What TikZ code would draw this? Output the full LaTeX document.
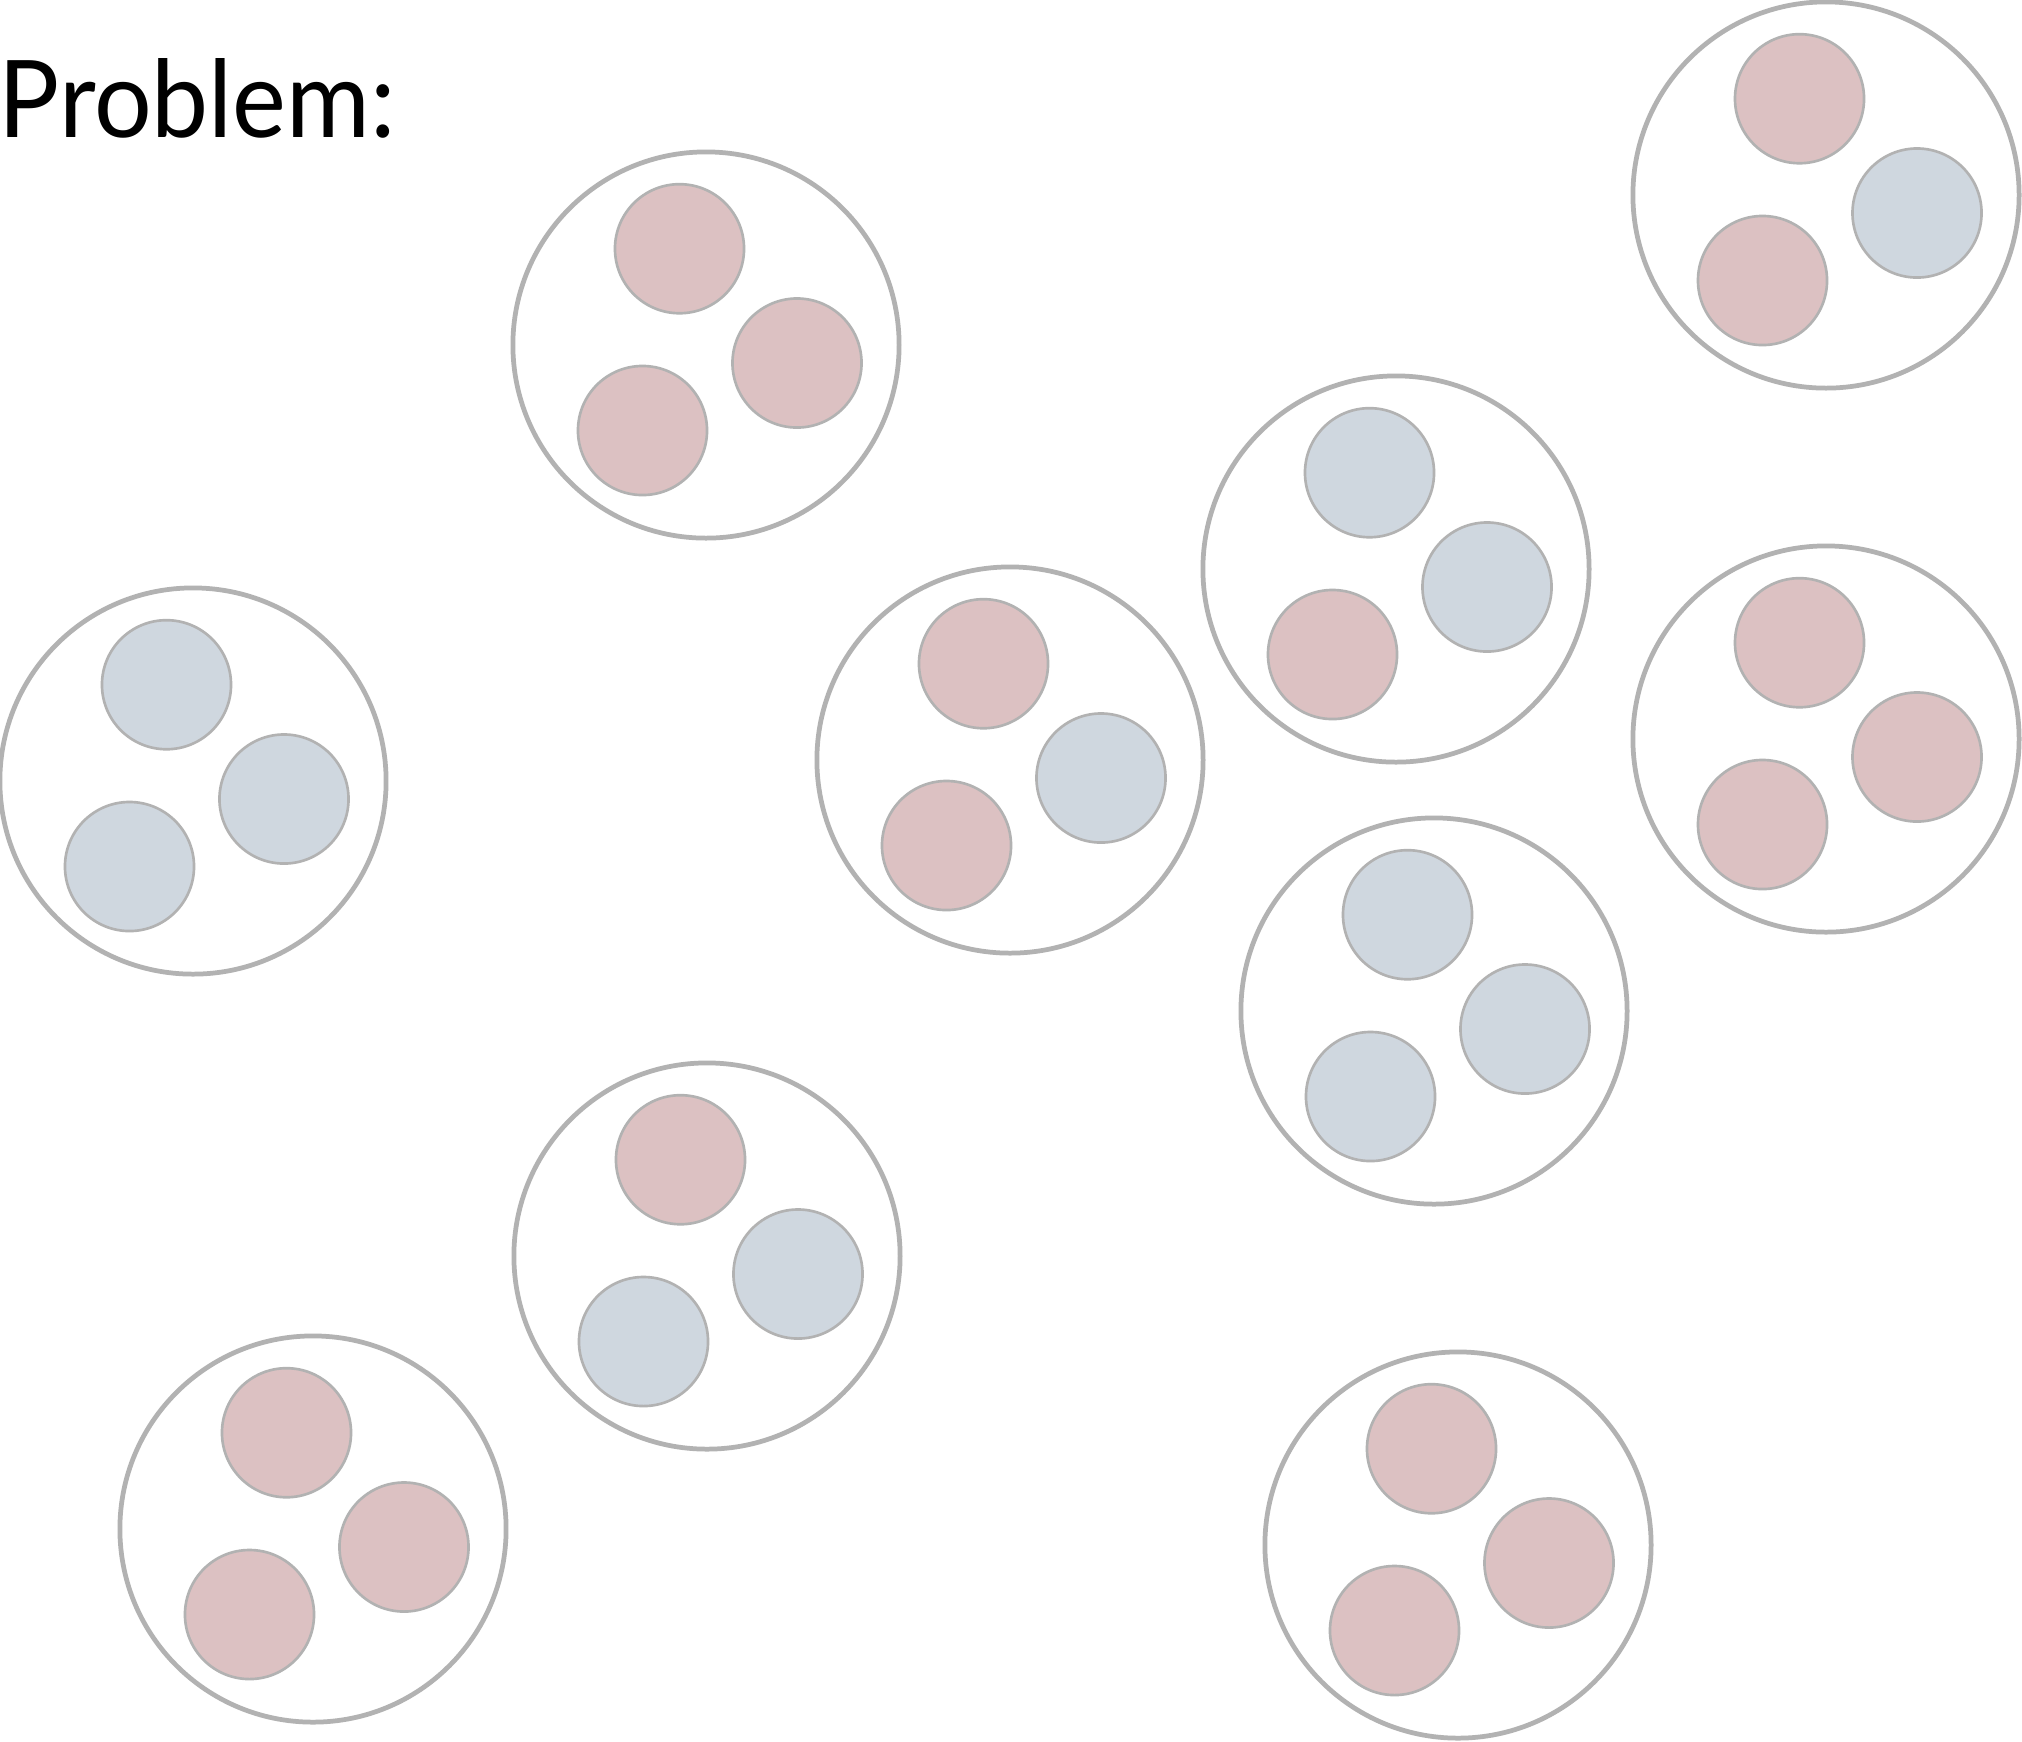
\documentclass[tikz,border=0pt]{standalone}
\usepackage{fontspec}
\setmainfont{Lato}
\usepackage{tikz}
\usetikzlibrary{positioning}
\definecolor{RimGray}{RGB}{178,178,178}
\definecolor{BallRed}{RGB}{220,193,194}
\definecolor{BallBlue}{RGB}{207,215,223}
\tikzset{
  cell/.style={circle,draw=RimGray,line width=1.35pt,fill=white,
    minimum size=3.86cm,inner sep=0pt},
  redball/.style={circle,draw=RimGray,line width=0.75pt,fill=BallRed,
    minimum size=1.29cm,inner sep=0pt},
  blueball/.style={circle,draw=RimGray,line width=0.75pt,fill=BallBlue,
    minimum size=1.29cm,inner sep=0pt}
}
\newcommand{\trio}[4]{%
  \node[#2] (#1a) at ([shift={(-26.5,-96.3)}]#1) {};
  \node[#3] (#1b) at ([shift={(91,18)}]#1) {};
  \node[#4] (#1c) at ([shift={(-63.5,85.5)}]#1) {};}
\begin{document}
\begin{tikzpicture}[x=0.01cm,y=-0.01cm]
  \useasboundingbox[fill=white] (0,0) rectangle (2022,1741);
  \node[anchor=base west,inner sep=0pt,font=\fontsize{30.5}{36}\selectfont] (title) at (-2,137) {\scalebox{0.95}[1]{Problem:}};
  % cells
  \node[cell] (c1) at (706,345) {};
  \node[cell] (c2) at (1826,195) {};
  \node[cell] (c3) at (1396,569) {};
  \node[cell] (c4) at (193,781) {};
  \node[cell] (c5) at (1010,760) {};
  \node[cell] (c6) at (1826,739) {};
  \node[cell] (c7) at (1434,1011) {};
  \node[cell] (c8) at (707,1256) {};
  \node[cell] (c9) at (313,1529) {};
  \node[cell] (c10) at (1458,1545) {};
  % balls: top, right, bottom left
  \trio{c1}{redball}{redball}{redball}
  \trio{c2}{redball}{blueball}{redball}
  \trio{c3}{blueball}{blueball}{redball}
  \trio{c4}{blueball}{blueball}{blueball}
  \trio{c5}{redball}{blueball}{redball}
  \trio{c6}{redball}{redball}{redball}
  \trio{c7}{blueball}{blueball}{blueball}
  \trio{c8}{redball}{blueball}{blueball}
  \trio{c9}{redball}{redball}{redball}
  \trio{c10}{redball}{redball}{redball}
\end{tikzpicture}
\end{document}
